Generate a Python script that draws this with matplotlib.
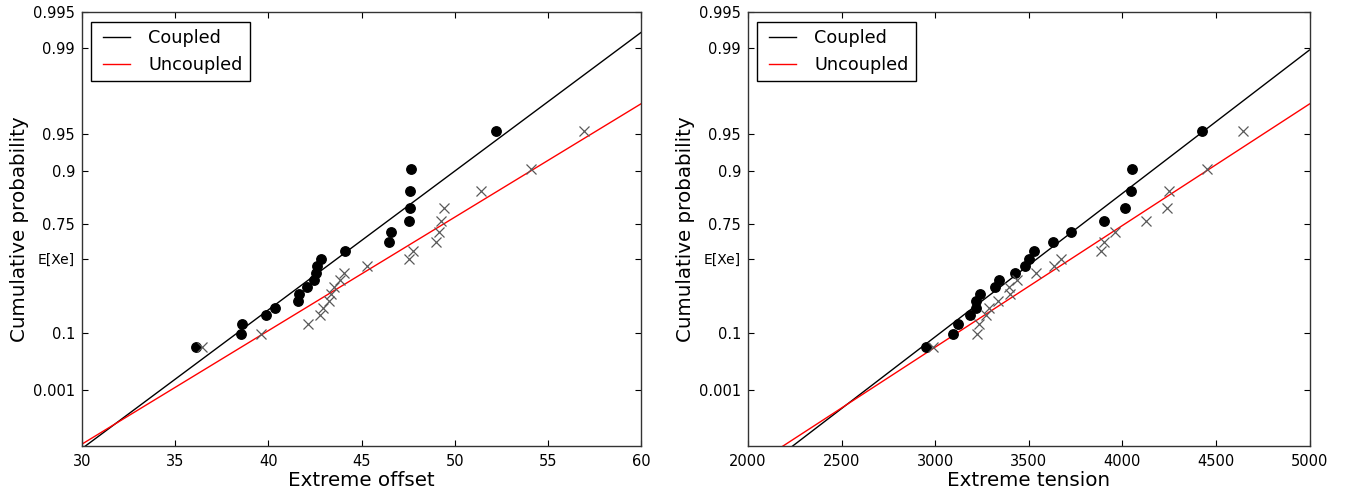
import numpy as np
import matplotlib
matplotlib.use("Agg")
import matplotlib.pyplot as plt
from matplotlib.ticker import FixedLocator, FixedFormatter, NullLocator
from matplotlib.lines import Line2D
from matplotlib.legend_handler import HandlerLine2D

# ---------------- data ----------------
# plotting positions (rank / (n+1)), n = 20
plot_prob = [0.0476, 0.0952, 0.1429, 0.1905, 0.2381, 0.2857, 0.3333, 0.3810,
             0.4286, 0.4762, 0.5238, 0.5714, 0.6190, 0.6667, 0.7143, 0.7619,
             0.8095, 0.8571, 0.9048, 0.9524]

offset_coupled = [36.10, 38.52, 38.57, 39.86, 40.34, 41.59, 41.65, 42.10, 42.44, 42.54,
                  42.61, 42.81, 44.12, 46.48, 46.60, 47.54, 47.59, 47.62, 47.64, 52.24]
offset_uncoupled = [36.42, 39.59, 42.15, 42.79, 42.92, 43.28, 43.35, 43.53, 43.87, 44.08,
                    45.30, 47.55, 47.78, 49.00, 49.15, 49.25, 49.42, 51.43, 54.12, 56.93]

tension_coupled = [2953, 3094, 3124, 3186, 3217, 3218, 3240, 3318, 3343, 3425,
                   3478, 3501, 3526, 3631, 3726, 3902, 4014, 4045, 4053, 4426]
tension_uncoupled = [2990, 3222, 3236, 3272, 3288, 3336, 3400, 3393, 3439, 3539,
                     3635, 3671, 3888, 3902, 3959, 4125, 4237, 4248, 4454, 4646]

# fitted Gumbel parameters (location, scale)
fit_offset_coupled = (41.51, 3.77)
fit_offset_uncoupled = (43.68, 4.61)
fit_tension_coupled = (3334.0, 364.6)
fit_tension_uncoupled = (3479.0, 430.0)

ytick_probs = [0.001, 0.1, np.exp(-np.exp(-0.5772156649)), 0.75, 0.9, 0.95, 0.99, 0.995]
ytick_labels = ["0.001", "0.1", "E[Xe]", "0.75", "0.9", "0.95", "0.99", "0.995"]

offset_xticks = [30, 35, 40, 45, 50, 55, 60]
tension_xticks = [2000, 2500, 3000, 3500, 4000, 4500, 5000]

# ---------------- helpers ----------------
def fwd(p):
    p = np.asarray(p, dtype=float)
    with np.errstate(all="ignore"):
        return -np.log(-np.log(p))

def inv(y):
    y = np.asarray(y, dtype=float)
    with np.errstate(all="ignore"):
        return np.exp(-np.exp(-y))

def gumbel_cdf(x, loc, scale):
    return np.exp(-np.exp(-(x - loc) / scale))

plt.rcParams["font.family"] = ["DejaVu Sans"]

fig = plt.figure(figsize=(13.48, 4.94), dpi=100)
H = 494.0
W = 1348.0
ax1 = fig.add_axes([82 / W, (H - 446) / H, (641 - 82) / W, (446 - 12) / H])
ax2 = fig.add_axes([748 / W, (H - 446) / H, (1309.5 - 748) / W, (446 - 12) / H])

y_low = inv(-3.004)

def setup(ax, xc, xu, fc, fu, xlim, xticks, xlabel):
    ax.set_yscale("function", functions=(fwd, inv))
    xs = np.linspace(xlim[0], xlim[1], 400)
    ax.plot(xs, gumbel_cdf(xs, *fc), color="k", lw=1.0, label="Coupled")
    ax.plot(xs, gumbel_cdf(xs, *fu), color="r", lw=1.0, label="Uncoupled")
    ax.plot(xc, plot_prob, linestyle="none", marker="o", ms=6.8, color="k",
            markeredgecolor="k")
    ax.plot(xu, plot_prob, linestyle="none", marker="x", ms=7, mew=0.9,
            color="0.35")
    ax.set_xlim(*xlim)
    ax.set_ylim(y_low, 0.995)
    ax.yaxis.set_major_locator(FixedLocator(ytick_probs))
    ax.yaxis.set_major_formatter(FixedFormatter(ytick_labels))
    ax.yaxis.set_minor_locator(NullLocator())
    ax.set_xticks(xticks)
    ax.set_xticklabels([str(t) for t in xticks])
    ax.xaxis.set_minor_locator(NullLocator())
    ax.tick_params(direction="in", top=True, right=True, length=4.5, width=0.8,
                   labelsize=10.5, pad=6, colors="k")
    ax.tick_params(axis="y", pad=5)
    for lab in ax.get_yticklabels():
        if lab.get_text() == "E[Xe]":
            lab.set_fontsize(10)
    for s in ax.spines.values():
        s.set_linewidth(1.0)
        s.set_color("0.2")
    ax.set_xlabel(xlabel, fontsize=14.3, labelpad=1)
    ax.set_ylabel("Cumulative probability", fontsize=14.3, labelpad=3)
    # legend box: left edge ~8.7 px, top edge ~10.3 px inside the axes
    bb = ax.get_position()
    ax_w_px = bb.width * W
    ax_h_px = bb.height * H
    leg = ax.legend(loc="upper left",
                    bbox_to_anchor=(8.7 / ax_w_px, 1 - 10.3 / ax_h_px),
                    borderaxespad=0.0,
                    fontsize=12.7, handlelength=1.82,
                    handletextpad=1.06, borderpad=0.39, labelspacing=0.52,
                    fancybox=False, framealpha=1.0,
                    handler_map={Line2D: HandlerLine2D(xpad=0.32)})
    leg.get_frame().set_edgecolor("k")
    leg.get_frame().set_linewidth(1.0)

setup(ax1, offset_coupled, offset_uncoupled, fit_offset_coupled, fit_offset_uncoupled,
      (30, 60), offset_xticks, "Extreme offset")
setup(ax2, tension_coupled, tension_uncoupled, fit_tension_coupled, fit_tension_uncoupled,
      (2000, 5000), tension_xticks, "Extreme tension")

fig.savefig("out.png", dpi=100, facecolor="white")
